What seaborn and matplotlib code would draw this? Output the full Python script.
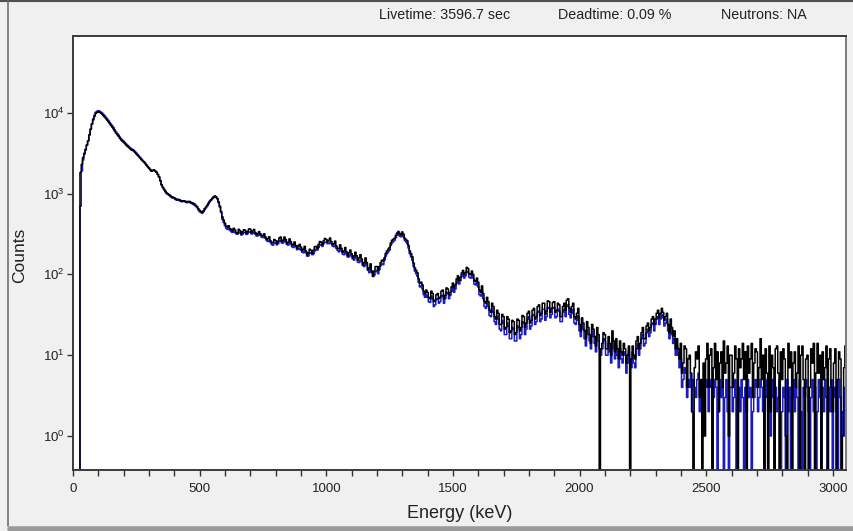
import numpy as np
import pandas as pd
import matplotlib
matplotlib.use("Agg")
import matplotlib.pyplot as plt
import seaborn as sns
from matplotlib.ticker import MultipleLocator, LogLocator, NullLocator
from matplotlib.lines import Line2D

# Channel centres (keV), 5 keV per channel
energy_kev = np.arange(0, 3055, 5)

# Measured spectrum (counts per channel), 20 channels = 100 keV per row
sample_counts = [
    0, 0, 0, 0, 0, 0, 1820, 2300, 2790, 3150, 3520, 4000, 4480, 5300, 6230, 7200, 8150, 9000, 9830, 10100,
    10240, 10150, 9870, 9600, 9230, 8850, 8470, 8100, 7720, 7350, 6980, 6650, 6320, 5950, 5580, 5350, 5120, 4850, 4590, 4450,
    4310, 4150, 3980, 3850, 3720, 3600, 3480, 3420, 3370, 3230, 3090, 2980, 2870, 2750, 2630, 2540, 2460, 2350, 2240, 2150,
    2060, 1970, 1890, 1930, 1960, 1900, 1840, 1730, 1610, 1450, 1290, 1200, 1130, 1070, 1020, 990, 970, 940, 910, 900,
    890, 865, 840, 850, 840, 820, 810, 815, 810, 800, 790, 800, 800, 780, 770, 755, 740, 715, 690, 650,
    620, 600, 585, 610, 650, 680, 715, 760, 805, 840, 875, 910, 935, 910, 870, 790, 700, 600, 515, 470,
    430, 395, 385, 400, 368, 360, 345, 372, 355, 330, 325, 362, 345, 318, 335, 356, 350, 322, 340, 365,
    362, 330, 345, 360, 330, 312, 320, 338, 318, 300, 305, 318, 290, 272, 278, 292, 260, 245, 250, 270,
    262, 240, 258, 282, 290, 255, 265, 290, 270, 242, 250, 275, 255, 230, 236, 252, 228, 210, 225, 235,
    218, 196, 205, 222, 195, 175, 185, 205, 198, 182, 200, 220, 222, 210, 235, 255, 250, 232, 260, 278,
    270, 252, 265, 282, 255, 235, 240, 258, 225, 208, 210, 232, 210, 188, 195, 215, 190, 170, 185, 200,
    180, 160, 170, 188, 170, 150, 160, 175, 155, 132, 140, 160, 140, 115, 120, 135, 110, 95, 110, 125,
    125, 112, 125, 140, 150, 145, 160, 182, 195, 205, 215, 245, 265, 272, 280, 305, 325, 340, 320, 310,
    335, 315, 280, 270, 260, 228, 195, 180, 165, 138, 120, 112, 105, 88, 78, 80, 74, 62, 58, 64,
    60, 52, 50, 62, 58, 46, 48, 56, 58, 50, 52, 62, 64, 50, 55, 68, 66, 56, 60, 70,
    78, 68, 74, 88, 96, 84, 92, 104, 112, 100, 105, 122, 118, 102, 100, 110, 100, 84, 82, 90,
    80, 64, 60, 72, 58, 46, 44, 52, 46, 36, 34, 44, 40, 30, 28, 36, 33, 24, 24, 32,
    30, 21, 22, 30, 28, 19, 20, 27, 26, 18, 19, 28, 27, 20, 22, 31, 30, 22, 25, 33,
    35, 25, 27, 36, 38, 28, 30, 40, 42, 31, 33, 44, 44, 32, 35, 47, 46, 34, 38, 45,
    46, 34, 36, 44, 42, 30, 30, 40, 44, 36, 48, 50, 38, 34, 40, 44, 30, 28, 33, 38,
    24, 20, 29, 25, 20, 16, 26, 22, 18, 14, 24, 21, 17, 13, 22, 18, 0, 12, 14, 19,
    18, 12, 12, 17, 14, 10, 20, 15, 11, 16, 12, 9, 15, 11, 10, 14, 12, 8, 10, 13,
    0, 9, 13, 10, 9, 15, 17, 12, 14, 19, 22, 16, 16, 23, 25, 20, 22, 28, 30, 24,
    28, 33, 36, 29, 33, 38, 34, 27, 30, 33, 24, 19, 28, 22, 17, 20, 12, 16, 12, 9,
    14, 6, 8, 13, 12, 4, 9, 10, 6, 2, 0, 7, 11, 9, 13, 3, 5, 0, 8, 1,
    9, 14, 4, 10, 12, 0, 7, 14, 5, 11, 2, 8, 11, 4, 15, 6, 8, 13, 1, 10,
    10, 4, 6, 13, 9, 0, 12, 7, 9, 14, 5, 11, 0, 13, 6, 9, 14, 3, 8, 12,
    11, 4, 7, 16, 5, 10, 0, 12, 6, 0, 13, 2, 10, 7, 0, 12, 13, 6, 0, 11,
    5, 12, 9, 1, 0, 14, 7, 11, 0, 8, 11, 4, 6, 13, 0, 10, 13, 5, 0, 9,
    10, 0, 4, 12, 8, 14, 0, 6, 14, 6, 10, 0, 11, 5, 7, 13, 0, 9, 12, 4,
    2, 8, 12, 0, 5, 11, 9, 0, 1, 7, 13,
]

# Reference spectrum (counts per channel), same channel layout
reference_counts = [
    0, 0, 0, 0, 0, 0, 700, 1900, 2600, 3050, 3450, 3950, 4500, 5350, 6300, 7350, 8400, 9300, 10100, 10400,
    10600, 10450, 10200, 9900, 9550, 9200, 8800, 8400, 8000, 7600, 7250, 6900, 6550, 6150, 5800, 5550, 5300, 5000, 4750, 4600,
    4450, 4280, 4100, 3960, 3830, 3700, 3580, 3520, 3450, 3310, 3180, 3050, 2930, 2800, 2680, 2580, 2490, 2380, 2270, 2170,
    2080, 1990, 1910, 1930, 1950, 1890, 1830, 1720, 1600, 1430, 1270, 1180, 1110, 1050, 1000, 975, 950, 920, 890, 880,
    870, 845, 830, 825, 820, 805, 790, 800, 800, 785, 770, 780, 780, 760, 750, 735, 720, 695, 670, 630,
    600, 585, 570, 595, 630, 665, 700, 745, 790, 825, 860, 890, 920, 895, 860, 770, 680, 580, 480, 440,
    400, 372, 360, 365, 350, 338, 330, 338, 330, 318, 315, 330, 325, 306, 315, 328, 330, 312, 320, 332,
    335, 316, 320, 330, 315, 298, 300, 310, 305, 288, 285, 295, 280, 262, 255, 266, 250, 234, 230, 244,
    245, 232, 240, 256, 265, 244, 245, 262, 255, 235, 230, 250, 240, 220, 215, 228, 220, 202, 205, 212,
    200, 188, 185, 198, 185, 168, 170, 182, 185, 175, 180, 195, 205, 200, 215, 230, 235, 222, 240, 250,
    250, 240, 240, 250, 240, 225, 220, 230, 210, 198, 190, 204, 195, 178, 175, 188, 180, 164, 165, 175,
    170, 155, 150, 165, 160, 142, 140, 150, 145, 128, 125, 138, 130, 112, 105, 116, 105, 94, 98, 108,
    112, 102, 115, 128, 135, 132, 150, 168, 180, 190, 200, 228, 245, 255, 265, 285, 305, 318, 300, 292,
    310, 292, 265, 252, 240, 212, 180, 165, 150, 126, 110, 102, 95, 80, 70, 72, 66, 56, 52, 56,
    52, 46, 45, 54, 50, 40, 42, 49, 50, 44, 46, 54, 55, 44, 50, 60, 58, 50, 55, 62,
    68, 60, 66, 78, 86, 76, 84, 94, 100, 90, 96, 110, 105, 92, 90, 98, 90, 76, 74, 80,
    70, 56, 54, 62, 50, 40, 38, 45, 40, 31, 30, 38, 34, 26, 24, 31, 28, 21, 20, 27,
    25, 18, 18, 25, 23, 16, 16, 22, 21, 15, 15, 23, 22, 16, 18, 26, 25, 18, 21, 28,
    30, 21, 23, 31, 32, 24, 26, 34, 35, 26, 28, 37, 37, 27, 30, 39, 38, 29, 32, 38,
    39, 29, 30, 37, 35, 26, 26, 34, 37, 30, 40, 42, 32, 29, 33, 37, 25, 24, 27, 31,
    20, 17, 24, 21, 16, 13, 21, 18, 15, 12, 20, 17, 14, 11, 18, 15, 12, 10, 12, 16,
    15, 10, 10, 14, 11, 8, 16, 12, 9, 13, 10, 7, 12, 9, 8, 11, 10, 6, 8, 11,
    9, 7, 11, 8, 7, 12, 14, 10, 12, 16, 18, 13, 14, 19, 21, 17, 19, 24, 25, 20,
    24, 28, 30, 24, 28, 32, 29, 23, 25, 28, 20, 16, 23, 18, 14, 16, 10, 13, 10, 7,
    9, 4, 5, 7, 6, 3, 5, 4, 6, 2, 5, 4, 3, 5, 6, 2, 4, 5, 3, 4,
    4, 5, 2, 4, 5, 0, 3, 5, 4, 0, 2, 5, 3, 4, 0, 3, 5, 2, 0, 4,
    4, 2, 3, 5, 0, 3, 4, 2, 5, 3, 0, 4, 2, 5, 3, 4, 0, 2, 3, 5,
    4, 2, 3, 5, 4, 2, 0, 3, 5, 2, 4, 1, 3, 5, 0, 4, 2, 3, 5, 0,
    2, 4, 3, 0, 5, 2, 4, 0, 3, 5, 2, 4, 3, 0, 5, 2, 0, 4, 3, 5,
    4, 2, 0, 3, 5, 2, 4, 0, 2, 5, 3, 0, 4, 2, 5, 3, 0, 4, 2, 5,
    0, 3, 4, 2, 0, 5, 3, 0, 2, 4, 1,
]

header_items = ["Livetime: 3596.7 sec", "Deadtime: 0.09 %", "Neutrons: NA"]

df = pd.concat([
    pd.DataFrame({"energy": energy_kev, "counts": reference_counts, "spectrum": "reference"}),
    pd.DataFrame({"energy": energy_kev, "counts": sample_counts, "spectrum": "sample"}),
], ignore_index=True)

sns.set_style("ticks")
plt.rcParams["font.family"] = ["Liberation Sans", "DejaVu Sans"]

W, H = 854, 531
fig = plt.figure(figsize=(W / 100, H / 100), dpi=100, facecolor="#f0f0f0")
ax = fig.add_axes([73 / W, 1 - 470 / H, (846 - 73) / W, (470 - 36) / H])
ax.set_facecolor("white")

sns.lineplot(
    data=df, x="energy", y="counts", hue="spectrum",
    hue_order=["reference", "sample"],
    palette={"reference": "#1a1ac8", "sample": "#000000"},
    estimator=None, sort=False, legend=False,
    drawstyle="steps-mid", linewidth=1.1, ax=ax,
)

ax.set_yscale("log")
ax.set_xlim(0, 3052)
ax.set_ylim(0.38, 8.9e4)
ax.set_xlabel("")
ax.set_ylabel("")

ax.xaxis.set_major_locator(MultipleLocator(500))
ax.xaxis.set_minor_locator(MultipleLocator(100))
ax.yaxis.set_major_locator(LogLocator(base=10, numticks=10))
ax.yaxis.set_minor_locator(NullLocator())
ax.tick_params(axis="x", which="both", direction="out", length=4, width=1,
               color="#333333", labelsize=9.5, pad=5, labelcolor="#222222")
ax.tick_params(axis="y", which="major", direction="out", length=4, width=1,
               color="#333333", labelsize=9.5, pad=2, labelcolor="#222222")

for side in ["left", "top", "bottom"]:
    ax.spines[side].set_color("#3a3a3a")
    ax.spines[side].set_linewidth(1.4)
ax.spines["right"].set_color("#7a7a7a")
ax.spines["right"].set_linewidth(1.4)

fig.text(20 / W, 1 - 255 / H, "Counts", rotation=90, ha="center", va="center",
         fontsize=12.5, color="#222222")
fig.text(460 / W, 1 - 514 / H, "Energy (keV)", ha="center", va="center",
         fontsize=13, color="#222222")

for cx, label in zip([445, 615, 764], header_items):
    fig.text(cx / W, 1 - 15 / H, label, ha="center", va="center",
             fontsize=10.3, color="#222222")

# Window frame around the panel
fig.add_artist(Line2D([0, 1], [1 - 1 / H, 1 - 1 / H], transform=fig.transFigure,
                      color="#505050", linewidth=1.5))
fig.add_artist(Line2D([8 / W, 8 / W], [1 - 1 / H, 5 / H], transform=fig.transFigure,
                      color="#707070", linewidth=1.2))
fig.add_artist(Line2D([10 / W, 1], [2.5 / H, 2.5 / H], transform=fig.transFigure,
                      color="#9a9a9a", linewidth=4))

fig.savefig("out.png", dpi=100, facecolor=fig.get_facecolor())
